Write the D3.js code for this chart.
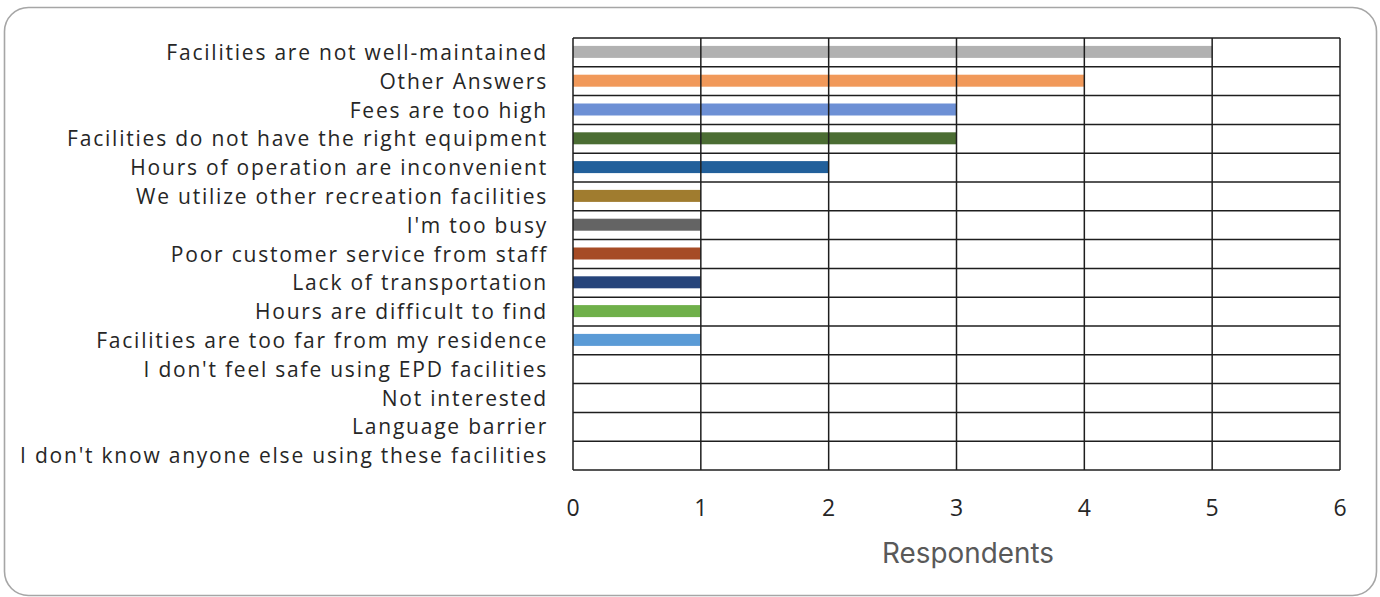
<!DOCTYPE html>
<html>
<head>
<meta charset="utf-8">
<script src="https://cdn.jsdelivr.net/npm/d3@7"></script>
<style>
  html, body { margin: 0; padding: 0; background: #fff; }
  svg { display: block; }
  text { font-variant-ligatures: none; font-feature-settings: "liga" 0, "clig" 0; }
</style>
</head>
<body>
<svg id="chart" width="1380" height="597"></svg>
<script>
const categories = [
  "Facilities are not well-maintained",
  "Other Answers",
  "Fees are too high",
  "Facilities do not have the right equipment",
  "Hours of operation are inconvenient",
  "We utilize other recreation facilities",
  "I'm too busy",
  "Poor customer service from staff",
  "Lack of transportation",
  "Hours are difficult to find",
  "Facilities are too far from my residence",
  "I don't feel safe using EPD facilities",
  "Not interested",
  "Language barrier",
  "I don't know anyone else using these facilities"
];
const values = [5, 4, 3, 3, 2, 1, 1, 1, 1, 1, 1, 0, 0, 0, 0];
const barColors = [
  "#b1b1b1", "#f1995a", "#6d90d5", "#4b6d33", "#22609b",
  "#a07c2f", "#646464", "#a64b25", "#26447b", "#6fb04a",
  "#5b9bd6", "#999999", "#999999", "#999999", "#999999"
];
const xTicks = [0, 1, 2, 3, 4, 5, 6];
const xTitle = "Respondents";

const svg = d3.select("#chart");

// card frame
svg.append("rect")
  .attr("x", 4.5).attr("y", 7.5)
  .attr("width", 1372).attr("height", 588)
  .attr("rx", 24).attr("ry", 24)
  .attr("fill", "#fff")
  .attr("stroke", "#a6a6a6")
  .attr("stroke-width", 1.6);

const plot = { left: 573, right: 1340, top: 38, bottom: 470 };

const x = d3.scaleLinear().domain([0, 6]).range([plot.left, plot.right]);
const y = d3.scaleBand().domain(categories).range([plot.top, plot.bottom]).paddingInner(0).paddingOuter(0);

const gridColor = "#1e1e1e";

// bars
const barH = 12;
svg.append("g").selectAll("rect")
  .data(categories)
  .join("rect")
  .attr("x", x(0))
  .attr("y", d => y(d) + y.bandwidth() / 2 - barH / 2 - 0.5)
  .attr("width", (d, i) => x(values[i]) - x(0))
  .attr("height", barH)
  .attr("fill", (d, i) => barColors[i]);

// horizontal grid lines (row boundaries)
const rowEdges = categories.map(c => y(c)).concat([plot.bottom]);
svg.append("g").selectAll("line")
  .data(rowEdges)
  .join("line")
  .attr("x1", plot.left).attr("x2", plot.right)
  .attr("y1", d => d).attr("y2", d => d)
  .attr("stroke", gridColor).attr("stroke-width", 1.5);

// vertical grid lines
svg.append("g").selectAll("line")
  .data(xTicks)
  .join("line")
  .attr("x1", d => x(d)).attr("x2", d => x(d))
  .attr("y1", plot.top).attr("y2", plot.bottom)
  .attr("stroke", gridColor).attr("stroke-width", 1.5);

// category labels
const labelFont = "'Open Sans', Lato, sans-serif";
const labelSize = 21;
const labels = svg.append("g").selectAll("text")
  .data(categories)
  .join("text")
  .attr("x", 548)
  .attr("y", d => y(d) + y.bandwidth() / 2)
  .attr("dy", "0.36em")
  .attr("text-anchor", "end")
  .attr("font-family", labelFont)
  .attr("font-size", labelSize)
  .attr("fill", "#262626")
  .text(d => d);

// small letter-spacing so the longest label spans like the reference
const longestText = categories[categories.length - 1];
const longest = labels.filter(d => d === longestText).node();
const w = longest.getComputedTextLength();
const ls = Math.max(0, (526 - w) / (longestText.length - 1));
labels.attr("letter-spacing", ls.toFixed(2) + "px");

// tick labels
svg.append("g").selectAll("text")
  .data(xTicks)
  .join("text")
  .attr("x", d => x(d))
  .attr("y", 508)
  .attr("dy", "0.36em")
  .attr("text-anchor", "middle")
  .attr("font-family", labelFont)
  .attr("font-size", 23)
  .attr("fill", "#262626")
  .text(d => d);

// axis title
const title = svg.append("text")
  .attr("x", 968)
  .attr("y", 553)
  .attr("dy", "0.35em")
  .attr("text-anchor", "middle")
  .attr("font-family", "Inter, Roboto, sans-serif")
  .attr("font-size", 24)
  .attr("fill", "#595959")
  .text(xTitle);
const tw = title.node().getComputedTextLength();
title.attr("font-size", 24 * 172 / tw);
</script>
</body>
</html>
